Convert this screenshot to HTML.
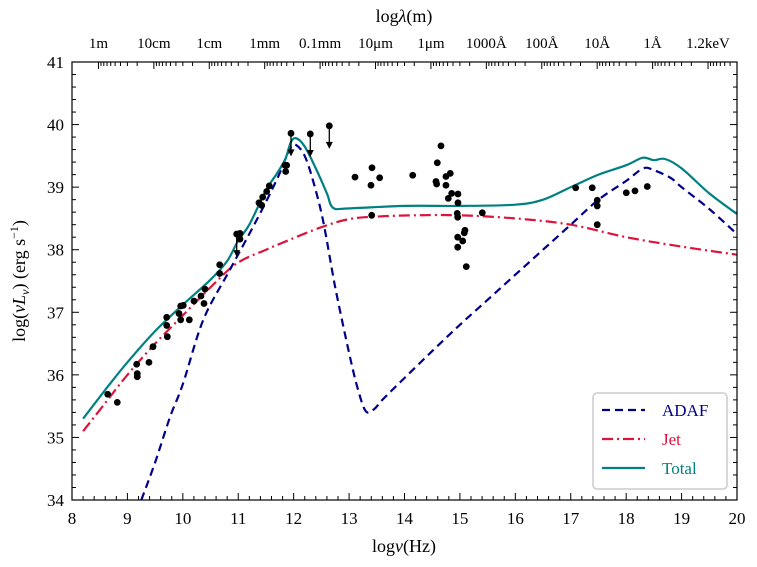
<!DOCTYPE html>
<html><head><meta charset="utf-8"><style>
body{margin:0;background:#fff;}
svg{display:block;font-family:"Liberation Serif",serif;}
</style></head><body>
<svg id="chart" width="757" height="567" viewBox="0 0 757 567" xmlns="http://www.w3.org/2000/svg">
<g id="g"></g>
</svg>
<script>
const detX=[8.644,8.817,9.167,9.178,9.178,9.389,9.462,9.709,9.709,9.720,9.931,9.961,10.008,9.961,10.117,10.201,10.328,10.382,10.400,10.665,10.665,11.031,11.031,11.374,11.423,11.441,11.513,11.560,11.843,11.874,11.856,13.107,13.413,13.395,13.552,13.408,14.148,14.658,14.592,14.568,14.580,14.748,14.826,14.748,14.790,14.851,14.965,14.965,14.952,14.960,15.091,15.079,14.960,15.050,14.960,15.115,15.404,17.089,17.388,17.478,17.478,17.478,18.002,18.159,18.381];
const detY=[35.69,35.56,36.17,36.02,35.97,36.20,36.45,36.92,36.79,36.61,36.98,37.10,37.11,36.88,36.88,37.18,37.26,37.14,37.37,37.76,37.62,38.26,38.17,38.75,38.71,38.84,38.93,39.02,39.35,39.35,39.25,39.16,39.31,39.03,39.15,38.55,39.19,39.66,39.39,39.09,39.05,39.17,39.22,39.03,38.82,38.90,38.89,38.75,38.58,38.52,38.31,38.27,38.20,38.14,38.04,37.73,38.59,38.99,38.99,38.79,38.70,38.40,38.91,38.94,39.01];
const ulX=[10.972,11.952,12.300,12.643];
const ulY=[38.25,39.86,39.85,39.98];
const adafX=[9.25,9.5,9.77,10.0,10.37,10.85,11.33,11.69,11.85,11.96,12.05,12.2,12.35,12.53,12.75,13.0,13.15,13.3,13.45,13.6,14.0,14.5,15.0,15.5,16.0,16.5,17.0,17.5,18.0,18.31,18.5,18.8,19.0,19.5,20.0];
const adafY=[34.0,34.6,35.33,35.85,36.88,37.68,38.47,39.11,39.45,39.65,39.67,39.5,39.1,38.47,37.4,36.35,35.8,35.42,35.45,35.6,35.95,36.38,36.8,37.2,37.6,38.0,38.4,38.8,39.1,39.30,39.27,39.15,39.0,38.65,38.25];
const jetX=[8.2,8.6,9.0,9.5,10.0,10.5,10.97,11.5,11.93,12.5,13.0,13.5,14.2,15.0,16.0,17.0,18.0,19.0,20.0];
const jetY=[35.1,35.55,36.0,36.5,36.95,37.4,37.78,38.0,38.16,38.36,38.49,38.53,38.55,38.55,38.5,38.4,38.2,38.05,37.92];
const totX=[8.2,8.6,9.0,9.5,10.0,10.5,10.8,11.0,11.2,11.5,11.7,11.85,11.95,12.05,12.2,12.4,12.6,12.71,13.0,14.0,15.0,16.0,16.5,17.0,17.5,18.0,18.3,18.5,18.7,19.0,19.5,20.0];
const totY=[35.3,35.76,36.2,36.7,37.12,37.52,37.82,38.15,38.4,38.95,39.22,39.45,39.72,39.78,39.65,39.3,38.9,38.67,38.66,38.7,38.7,38.72,38.8,39.0,39.2,39.35,39.47,39.43,39.45,39.3,38.9,38.57];
const xTicks=[8,9,10,11,12,13,14,15,16,17,18,19,20];
const yTicks=[34,35,36,37,38,39,40,41];
const topLabels=["1m","10cm","1cm","1mm","0.1mm","10\u03bcm","1\u03bcm","1000\u00c5","100\u00c5","10\u00c5","1\u00c5","1.2keV"];

const L=72,R=737,T=62,B=500;
const sx=v=>L+(v-8)/12*(R-L);
const sy=v=>B-(v-34)/7*(B-T);
const NS="http://www.w3.org/2000/svg";
const g=document.getElementById('g');
function mk(t,a,p){const e=document.createElementNS(NS,t);for(const k in a)e.setAttribute(k,a[k]);(p||g).appendChild(e);return e;}
function line(x1,y1,x2,y2,w){return mk('line',{x1,y1,x2,y2,stroke:'#000','stroke-width':w||1});}

for(let v=8;v<=20.001;v+=0.2){const x=sx(v);const maj=Math.abs(v-Math.round(v))<1e-6;const l=maj?7:4;
 const t=line(x,B,x,B-l);}
for(let v=34;v<=41.001;v+=0.2){const y=sy(v);const maj=Math.abs(v-Math.round(v))<1e-6;const l=maj?7:4;
 const t=line(L,y,L+l,y);
 const t2=line(R,y,R-l,y);}
for(let k=0;k<12;k++){const nu=8.477+k;
 const t=line(sx(nu),T,sx(nu),T+7);
 for(let m=2;m<=9;m++){const v=nu+1-Math.log10(m);if(v<=20){const t2=line(sx(v),T,sx(v),T+4);}}
 const tx=mk('text',{x:sx(nu),y:48,'font-size':15,'text-anchor':'middle'});tx.textContent=topLabels[k];
 }
xTicks.forEach(v=>{const t=mk('text',{x:sx(v),y:524,'font-size':17,'text-anchor':'middle'});t.textContent=v;
 });
yTicks.forEach(v=>{const t=mk('text',{x:64,y:sy(v)+6,'font-size':17,'text-anchor':'end'});t.textContent=v;
 });

function smoothD(xs,ys){const P=xs.map((x,i)=>[sx(x),sy(Math.max(33.5,ys[i]))]);
 let d='M'+P[0][0].toFixed(1)+','+P[0][1].toFixed(1);
 for(let i=0;i<P.length-1;i++){const p0=P[Math.max(0,i-1)],p1=P[i],p2=P[i+1],p3=P[Math.min(P.length-1,i+2)];
  const c1=[p1[0]+(p2[0]-p0[0])/6,p1[1]+(p2[1]-p0[1])/6],c2=[p2[0]-(p3[0]-p1[0])/6,p2[1]-(p3[1]-p1[1])/6];
  d+=`C${c1[0].toFixed(1)},${c1[1].toFixed(1)} ${c2[0].toFixed(1)},${c2[1].toFixed(1)} ${p2[0].toFixed(1)},${p2[1].toFixed(1)}`;}
 return d;}
const defs=mk('defs',{});const cp=mk('clipPath',{id:'clip'},defs);mk('rect',{x:L,y:T,width:R-L,height:B-T},cp);
const cg=mk('g',{'clip-path':'url(#clip)'});
function pathC(xs,ys,attrs,name){const p=mk('path',Object.assign({d:smoothD(xs,ys),fill:'none'},attrs),cg);
 return p;}
pathC(jetX,jetY,{stroke:'#dc143c','stroke-width':2.2,'stroke-dasharray':'11,4,2,4'},'jet-curve');
pathC(adafX,adafY,{stroke:'#00008b','stroke-width':2.2,'stroke-dasharray':'8,5'},'adaf-curve');
pathC(totX,totY,{stroke:'#008080','stroke-width':2.2},'total-curve');
detX.forEach((x,i)=>{const c=mk('circle',{cx:sx(x),cy:sy(detY[i]),r:3.4,fill:'#000'});
 });
ulX.forEach((x,i)=>{const X=sx(x),Y=sy(ulY[i]);
 const c=mk('circle',{cx:X,cy:Y,r:3.4,fill:'#000'});
 line(X,Y,X,Y+17,1.3);
 const a=mk('path',{d:`M${X-3.5},${Y+16}L${X+3.5},${Y+16}L${X},${Y+23}Z`,fill:'#000'});});
const fr=mk('rect',{x:L,y:T,width:R-L,height:B-T,fill:'none',stroke:'#000','stroke-width':1.2});

const lg=mk('g',{});
mk('rect',{x:593,y:393,width:134,height:96,rx:4,fill:'#fff',stroke:'#ccc','stroke-width':1.5},lg);
const le=[['ADAF','#00008b','8,5'],['Jet','#dc143c','11,4,2,4'],['Total','#008080','']];
le.forEach((e,i)=>{const y=410+i*29;const ln=mk('line',{x1:602,y1:y,x2:645,y2:y,stroke:e[1],'stroke-width':2.2,'stroke-dasharray':e[2]||'none'},lg);
 
 const t=mk('text',{x:662,y:y+6,'font-size':17,fill:e[1]},lg);t.textContent=e[0];
 });
</script>
<svg style="position:absolute;left:0;top:0" width="757" height="567">
<text x="404" y="552" font-size="18" text-anchor="middle" font-family="Liberation Serif, serif">log<tspan font-style="italic">ν</tspan>(Hz)</text>
<text x="404" y="22" font-size="18" text-anchor="middle" font-family="Liberation Serif, serif">log<tspan font-style="italic">λ</tspan>(m)</text>
<text transform="translate(25,281) rotate(-90)" font-size="18" text-anchor="middle" font-family="Liberation Serif, serif">log(<tspan font-style="italic">νL<tspan font-size="12" dy="4">ν</tspan></tspan><tspan dy="-4">) (erg s</tspan><tspan font-size="12" dy="-7">−1</tspan><tspan dy="7">)</tspan></text>
</svg>
</body></html>
